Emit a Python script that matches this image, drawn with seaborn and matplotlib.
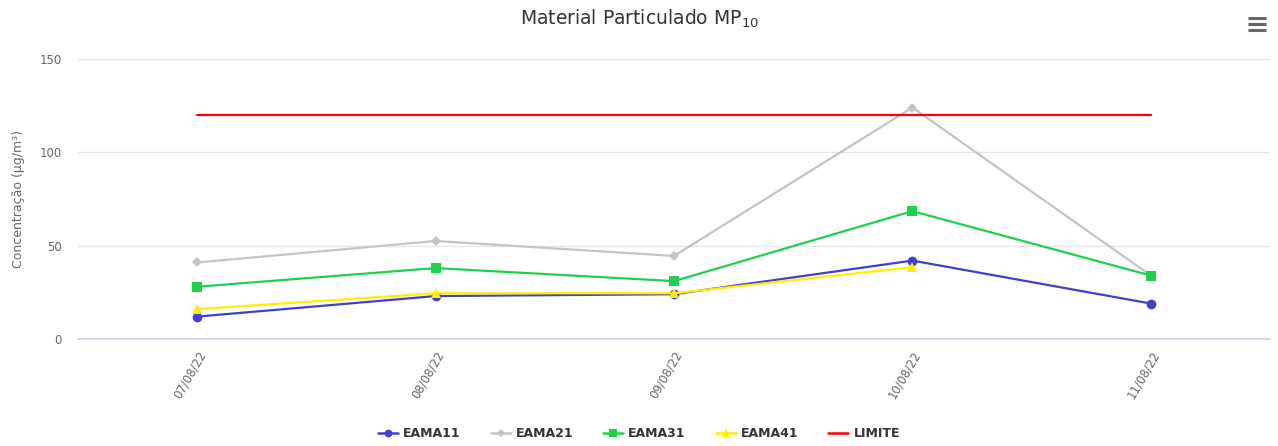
import numpy as np
import pandas as pd
import matplotlib
matplotlib.use("Agg")
import matplotlib.pyplot as plt
from matplotlib.lines import Line2D
import seaborn as sns

# data
dates = ["07/08/22", "08/08/22", "09/08/22", "10/08/22", "11/08/22"]
eama11 = [12, 23, 24, 42, 19]
eama21 = [41, 52.5, 44.5, 124, 34]
eama31 = [28, 38, 31, 68.5, 34]
eama41 = [16, 24.5, 24.5, 38.5, np.nan]
limite = [120, 120, 120, 120, 120]

series = {"EAMA11": eama11, "EAMA21": eama21, "EAMA31": eama31,
          "EAMA41": eama41, "LIMITE": limite}
colors = {"EAMA11": "#4040cc", "EAMA21": "#c4c4c4", "EAMA31": "#1ed14b",
          "EAMA41": "#ffee00", "LIMITE": "#ff0000"}
markers = {"EAMA11": "o", "EAMA21": "D", "EAMA31": "s", "EAMA41": "^", "LIMITE": ""}
msizes = {"EAMA11": 7, "EAMA21": 5.5, "EAMA31": 7, "EAMA41": 7.5, "LIMITE": 0}

rows = []
for name, vals in series.items():
    for i, v in enumerate(vals):
        rows.append({"date": dates[i], "pos": i, "serie": name, "valor": v})
df = pd.DataFrame(rows)

sns.set_theme(style="white")
plt.rcParams["font.family"] = ["DejaVu Sans"]
plt.rcParams["mathtext.default"] = "regular"

fig = plt.figure(figsize=(12.78, 4.46), dpi=100)
ax = fig.add_axes([78 / 1278, 1 - 339 / 446, 1192 / 1278, 280 / 446])

for name in series:
    sub = df[df["serie"] == name].dropna()
    sns.lineplot(data=sub, x="pos", y="valor", ax=ax, color=colors[name],
                 marker=markers[name] or None, markersize=msizes[name],
                 markeredgewidth=0, linewidth=1.6, label=name, zorder=3)

ax.set_xlim(-0.5, len(dates) - 0.5)
ax.set_ylim(0, 150)
ax.set_yticks([0, 50, 100, 150])
ax.set_xticks(range(len(dates)))
ax.set_xticklabels(dates, rotation=60, ha="right", rotation_mode="anchor",
                   fontsize=8.5, color="#666666")
ax.tick_params(axis="y", labelsize=8.5, labelcolor="#666666", length=0, pad=11.5)
ax.tick_params(axis="x", length=0, pad=7)
ax.grid(axis="y", color="#e6e6e6", linewidth=1)
ax.set_axisbelow(True)
for s in ["top", "right", "left"]:
    ax.spines[s].set_visible(False)
ax.spines["bottom"].set_color("#ccd6eb")
ax.set_xlabel("")
ax.set_ylabel("Concentração (µg/m³)", fontsize=9, color="#666666")
ax.yaxis.set_label_coords(-(78 - 25) / 1192, 0.5)

ax.get_legend().remove()
handles = [Line2D([0], [0], color=colors[n], marker=markers[n] or None,
                  markersize=msizes[n] * 0.8, markeredgewidth=0, linewidth=1.8)
           for n in series]
fig.legend(handles, list(series.keys()), loc="lower center", ncol=5,
           frameon=False, bbox_to_anchor=(0.5, -0.012), handlelength=1.6,
           handletextpad=0.4, columnspacing=2.4,
           prop={"size": 9, "weight": "bold"}, labelcolor="#333333")

fig.text(0.5, 1 - 19 / 446, "Material Particulado MP$_{10}$", ha="center",
         va="center", fontsize=13.5, color="#333333")

# menu icon (hamburger)
for yy in (18, 24, 30):
    fig.add_artist(Line2D([1248 / 1278, 1266 / 1278], [1 - yy / 446, 1 - yy / 446],
                          color="#666666", linewidth=2.2, solid_capstyle="butt"))

fig.savefig("out.png", dpi=100)
